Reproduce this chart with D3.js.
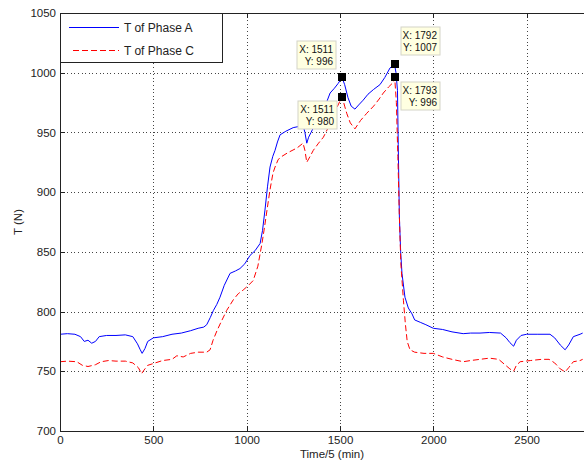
<!DOCTYPE html>
<html>
<head>
<meta charset="utf-8">
<script src="https://cdn.jsdelivr.net/npm/d3@7"></script>
<style>
	body{margin:0;background:#fff;}
	svg{display:block;font-family:"Liberation Sans",Arial,sans-serif;}
	.grid line{stroke:#444;stroke-dasharray:1,2.6;shape-rendering:crispEdges;}
	.axis path,.axis line{stroke:#222;shape-rendering:crispEdges;}
	.axis text{fill:#222;font-size:11.5px;}
</style>
</head>
<body>
<svg width="584" height="465"></svg>
<script>
// Phase A (blue, solid)
const timeA = [0,40,80,110,130,150,170,190,210,250,300,350,390,415,430,440,455,470,500,550,600,650,700,740,770,786,805,822,840,857,880,911,940,964,990,1018,1045,1072,1085,1098,1112,1125,1140,1152,1165,1179,1210,1249,1280,1302,1312,1322,1332,1345,1370,1400,1425,1447,1470,1490,1511,1525,1543,1560,1580,1600,1624,1650,1680,1714,1740,1768,1792,1800,1808,1812,1818,1825,1832,1848,1866,1886,1900,1930,1960,2000,2050,2100,2160,2200,2250,2300,2360,2390,2410,2430,2445,2470,2500,2560,2625,2650,2680,2706,2725,2750,2786,2800];
const phaseA = [781,781.5,781,779,775,776,773.5,775,779,780,780,780.5,779,773,768,765,769,775,778,779,781,782,784,786,787,789,795,801,806,812,822,832,834,836,840,847,851,857,868,885,905,921,930,935,942,948,951,954,955,956,950,941,946,950,958,966,974,983,987,991,996,990,979,972,969.5,973,977,982,986,990,996,1004,1007,1000,985,940,880,850,832,812,803,798,793,791,789,786,785,783,781.5,782,782,782.5,782,778,774,771,776,780,781,781,781,778,772,768,772,779,781,782];

// Phase C (red, dashed)
const timeC = [0,40,90,120,150,190,220,260,300,350,390,420,437,450,470,500,550,600,626,660,700,740,786,804,820,841,865,893,929,955,981,1010,1035,1060,1082,1095,1109,1125,1141,1152,1168,1179,1220,1270,1302,1312,1322,1340,1357,1385,1411,1440,1465,1490,1511,1525,1536,1555,1580,1610,1643,1680,1710,1732,1760,1786,1793,1802,1810,1818,1826,1840,1850,1860,1875,1900,1950,2000,2050,2100,2160,2200,2250,2300,2350,2380,2410,2430,2445,2465,2520,2580,2620,2650,2680,2706,2725,2750,2786,2800];
const phaseC = [758,758.5,758,755,754,755.5,758,759,758.5,758.5,757,753,748,751,755,756.5,759,760,763,762,765,766,766,768,776,784,792,801,810,815,818,822,826,838,857,870,885,902,916,921,927,929,933,937,941,935,925,930,935,941,946,955,965,973,980,972,966,958,953,960,966,972,978,983,988,992,996,975,930,880,840,809,790,775,768,766,765,765,762,760,758,759,760,761,760,756,752,750,755,758,759,760,760,757,752,749.5,753,758,759,760];

const seriesNames = ["T of Phase A","T of Phase C"];
const xTicks = [0,500,1000,1500,2000,2500];
const yTicks = [700,750,800,850,900,950,1000,1050];

// data tips
const tipX = [1511,1511,1792,1793];
const tipY = [996,980,1007,996];

const svg = d3.select("svg");
const margin = {top: 13, left: 60, bottom: 431};

const x = d3.scaleLinear().domain([0,3000]).range([margin.left,620]);
const y = d3.scaleLinear().domain([700,1050]).range([margin.bottom,margin.top]);
const fmt = d3.format("d");

// grid
svg.append("g").attr("class","grid")
	.selectAll("line").data(xTicks.slice(1)).join("line")
	.attr("x1",d=>Math.round(x(d))+.5).attr("x2",d=>Math.round(x(d))+.5)
	.attr("y1",margin.top).attr("y2",margin.bottom);
svg.append("g").attr("class","grid")
	.selectAll("line").data(yTicks.slice(1,-1)).join("line")
	.attr("y1",d=>Math.round(y(d))+.5).attr("y2",d=>Math.round(y(d))+.5)
	.attr("x1",margin.left).attr("x2",584);

// lines
const line = d3.line().x(d=>x(d[0])).y(d=>y(d[1]));
svg.append("path")
	.datum(d3.zip(timeA,phaseA))
	.attr("d",line)
	.attr("fill","none").attr("stroke","#0000ff").attr("stroke-width",1);
svg.append("path")
	.datum(d3.zip(timeC,phaseC))
	.attr("d",line)
	.attr("fill","none").attr("stroke","#ff0000").attr("stroke-width",1)
	.attr("stroke-dasharray","6,3");

// axes (ticks inward, matlab style)
svg.append("g").attr("class","axis")
	.attr("transform",`translate(0,${margin.bottom})`)
	.call(d3.axisBottom(x).tickValues(xTicks).tickFormat(fmt).tickSizeInner(-5).tickSizeOuter(0).tickPadding(5));
svg.append("g").attr("class","axis")
	.attr("transform",`translate(0,${margin.top})`)
	.call(d3.axisTop(x).tickValues(xTicks).tickSizeInner(-5).tickSizeOuter(0).tickFormat(""));
svg.append("g").attr("class","axis")
	.attr("transform",`translate(${margin.left},0)`)
	.call(d3.axisLeft(y).tickValues(yTicks).tickFormat(fmt).tickSizeInner(-5).tickSizeOuter(0).tickPadding(4));

svg.append("text")
	.attr("x",332).attr("y",458)
	.attr("text-anchor","middle").attr("font-size",11.5).attr("fill","#222")
	.text("Time/5 (min)");
svg.append("text")
	.attr("transform","translate(22,222) rotate(-90)")
	.attr("text-anchor","middle").attr("font-size",11.5).attr("fill","#222")
	.text("T (N)");

// data tips
const tipBox = [
	{dx:-45, dy:-36},
	{dx:-44, dy:4},
	{dx:6, dy:-37},
	{dx:6, dy:5}
];
const tips = svg.append("g").selectAll("g").data(d3.range(tipX.length)).join("g")
	.attr("transform",i=>`translate(${Math.round(x(tipX[i]))},${Math.round(y(tipY[i]))})`);
tips.append("rect")
	.attr("x",i=>tipBox[i].dx).attr("y",i=>tipBox[i].dy)
	.attr("width",39).attr("height",28)
	.attr("fill","#ffffe1").attr("stroke","#d4d4c8");
tips.append("text")
	.attr("x",i=>tipBox[i].dx+36).attr("y",i=>tipBox[i].dy+12)
	.attr("text-anchor","end").attr("font-size",10).attr("fill","#111")
	.text(i=>"X: "+tipX[i]);
tips.append("text")
	.attr("x",i=>tipBox[i].dx+36).attr("y",i=>tipBox[i].dy+24)
	.attr("text-anchor","end").attr("font-size",10).attr("fill","#111")
	.text(i=>"Y: "+tipY[i]);
tips.append("rect")
	.attr("x",-4).attr("y",-4).attr("width",8).attr("height",8)
	.attr("fill","#000");

// legend
const legend = svg.append("g");
legend.append("rect")
	.attr("x",60.5).attr("y",13.5).attr("width",162).attr("height",49)
	.attr("fill","#fff").attr("stroke","#222");
const colors = ["#0000ff","#ff0000"];
const dashes = ["none","6,3"];
seriesNames.forEach((name,i)=>{
	let ly = 27 + i*23;
	legend.append("line")
		.attr("x1",i?73:69).attr("x2",119).attr("y1",ly+.5).attr("y2",ly+.5)
		.attr("stroke",colors[i]).attr("stroke-width",1).attr("stroke-dasharray",dashes[i]);
	legend.append("text")
		.attr("x",124).attr("y",ly+4.5)
		.attr("font-size",12).attr("fill","#222")
		.text(name);
});
</script>
</body>
</html>
